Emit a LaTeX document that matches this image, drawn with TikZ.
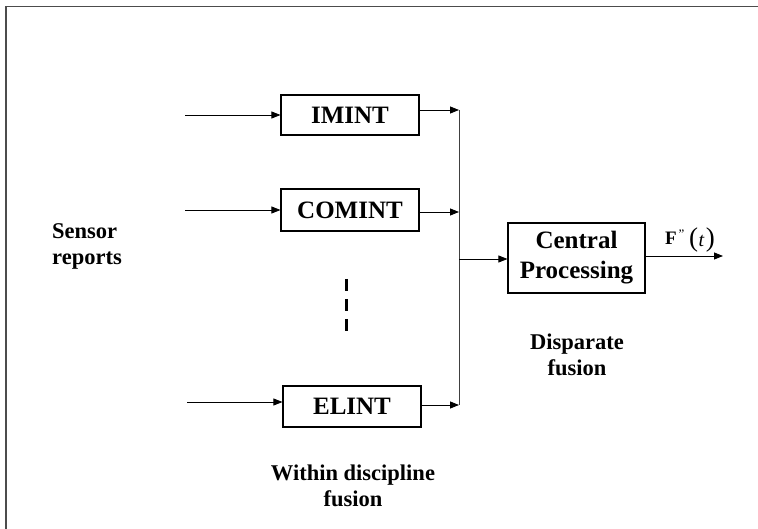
\documentclass[tikz,border=0pt]{standalone}
\usepackage{fontspec}
\setmainfont{Liberation Serif}
\usetikzlibrary{arrows.meta}
\newcommand\boxfont{\fontsize{25}{30}\selectfont\bfseries}
\newcommand\lblfont{\fontsize{22.5}{26}\selectfont\bfseries}
\tikzset{
  blockbox/.style={draw, line width=1.1pt, inner sep=0pt, font=\boxfont, align=center},
  arr/.style={-{Triangle[length=9pt,width=7pt]}, line width=0.8pt},
  bus/.style={line width=1pt, draw=black!75},
  caption/.style={font=\lblfont, inner sep=0pt}
}
\begin{document}
\begin{tikzpicture}[x=1pt,y=-1pt]
\useasboundingbox (0,0) rectangle (758,529);
% frame edges
\draw[line width=1.2pt, draw=black!70] (6,529) -- (6,6.5) -- (758,6.5);

% discipline blocks
\node[blockbox, minimum width=138pt, minimum height=40pt] (imint) at (350,115) {IMINT};
\node[blockbox, minimum width=138pt, minimum height=42pt] (comint) at (350,210) {COMINT};
\node[blockbox, minimum width=138pt, minimum height=41pt] (elint) at (352,406.5) {ELINT};
\node[blockbox, minimum width=137pt, minimum height=70pt] (central) at (576.5,258) {Central\\Processing};

% sensor inputs
\coordinate (in1) at (185,115);
\coordinate (in2) at (185,210);
\coordinate (in3) at (187,402);
\draw[arr] (in1) -- (in1 -| imint.west);
\draw[arr] (in2) -- (in2 -| comint.west);
\draw[arr] (in3) -- (in3 -| elint.west);

% collecting bus
\coordinate (b1) at (459,110);
\coordinate (b2) at (459,212);
\coordinate (b3) at (459,405);
\coordinate (bc) at (459,259);
\draw[bus] (b1) -- (b3);
\draw[arr] (b1 -| imint.east) -- (b1);
\draw[arr] (b2 -| comint.east) -- (b2);
\draw[arr] (b3 -| elint.east) -- (b3);
\draw[arr] (bc) -- (bc -| central.west);

% output and its label F''(t)
\coordinate (fout) at (723,256);
\draw[arr] (fout -| central.east) -- (fout);
\node[inner sep=0pt, anchor=base west, font=\fontsize{19}{20}\selectfont\bfseries] (fsym) at (665,245) {F};
\node[inner sep=0pt, anchor=base west, font=\fontsize{13}{13}\selectfont] (fprime) at ([xshift=1.5pt]fsym.base east |- 0,239) {\char34};
\node[inner sep=0pt, anchor=base west, font=\fontsize{27}{27}\selectfont] (farg) at (689,246.5)
  {(\kern0.5pt{\fontsize{20}{20}\selectfont\itshape t}\kern1.5pt)};

% omitted disciplines
\draw[line width=3pt, dash pattern=on 12pt off 8pt] (346,279) -- (346,331);

% captions
\node[caption, anchor=west, align=left] (sensor) at (52,246) {Sensor\\reports};
\node[caption, align=center] (within) at (353,486) {Within discipline\\fusion};
\node[caption, align=center] (disparate) at (577,355) {Disparate\\fusion};
\end{tikzpicture}
\end{document}
